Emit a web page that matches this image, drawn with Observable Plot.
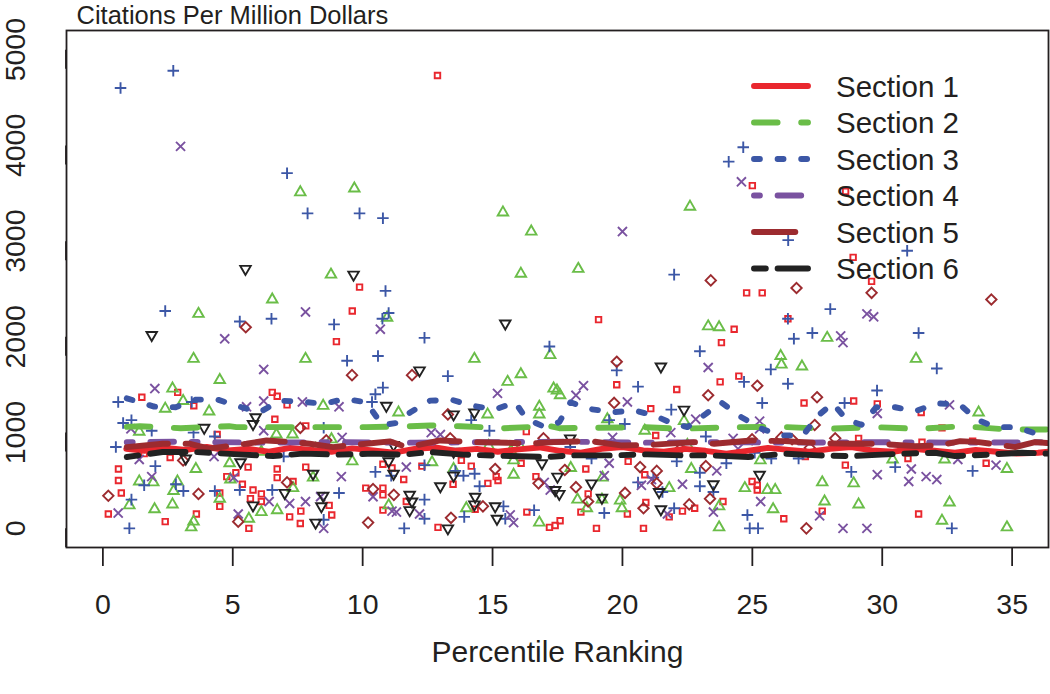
<!DOCTYPE html>
<html><head><meta charset="utf-8">
<script src="https://cdn.jsdelivr.net/npm/d3@7"></script>
<script src="https://cdn.jsdelivr.net/npm/@observablehq/plot@0.6"></script>
<style>
body{margin:0;background:#fff;}
#chart{position:relative;width:1050px;height:694px;}
</style></head><body><div id="chart"></div>
<script>
const titleText = "Citations Per Million Dollars";
const xLabel = "Percentile Ranking";
const xTicks = [0, 5, 10, 15, 20, 25, 30, 35];
const yTicks = [0, 1000, 2000, 3000, 4000, 5000];
const sectionNames = ["Section 1", "Section 2", "Section 3", "Section 4", "Section 5", "Section 6"];
const sectionColors = ["#e9272e", "#6abd48", "#3c57a6", "#7a52a0", "#9c2b2f", "#222222"];

const section1Points = [[12.88,4730],[25.0,3580],[28.59,3520],[28.88,2830],[24.78,2460],[25.38,2460],[29.59,2580],[9.88,2520],[9.6,2270],[8.99,1950],[2.88,1420],[1.5,1370],[3.5,1280],[4.4,980],[1.59,780],[2.59,740],[0.6,620],[0.6,500],[4.77,540],[0.71,370],[4.5,370],[4.5,230],[0.21,150],[3.6,150],[2.4,70],[6.52,1420],[6.71,1380],[7.09,1290],[6.62,1140],[7.81,1070],[5.12,580],[5.59,640],[6.71,620],[6.71,530],[7.81,640],[10.78,670],[5.37,460],[5.78,400],[6.1,360],[5.68,310],[6.1,280],[7.32,490],[8.71,240],[7.62,180],[7.19,120],[8.81,140],[5.62,0],[7.6,50],[10.12,420],[10.78,420],[10.78,350],[10.78,190],[16.3,1010],[16.1,680],[12.28,650],[11.58,510],[11.13,630],[14.18,650],[13.8,710],[13.48,460],[14.82,470],[15.14,540],[15.21,500],[16.67,540],[11.68,280],[12.9,10],[14.33,200],[16.32,170],[17.19,10],[17.41,30],[19.08,2180],[23.81,1940],[19.78,1500],[22.09,1450],[23.76,1530],[21.09,1250],[21.28,970],[20.22,700],[18.59,620],[20.86,560],[18.68,360],[18.4,170],[20.19,150],[20.9,270],[21.8,120],[22.31,180],[22.78,210],[17.6,80],[19.0,0],[20.81,0],[24.3,2080],[26.37,2190],[24.48,1590],[26.99,1310],[28.9,1330],[29.81,1300],[29.09,940],[27.04,750],[28.58,660],[24.99,490],[25.19,450],[25.19,400],[23.87,280],[27.69,180],[26.21,100],[31.5,1210],[32.3,1050],[33.48,910],[30.99,730],[34.0,680],[31.4,150],[31.53,900]];

const section2Points = [[7.6,3510],[9.68,3550],[8.78,2650],[15.4,3300],[16.49,3100],[22.6,3360],[16.09,2660],[18.3,2710],[3.68,2240],[3.49,1770],[4.5,1550],[2.68,1460],[3.09,1330],[2.4,1250],[4.09,1220],[1.4,1010],[4.88,680],[3.58,620],[1.94,480],[1.4,490],[2.87,490],[2.72,390],[1.02,240],[4.5,310],[2.68,250],[1.99,200],[3.49,70],[3.4,10],[6.52,2390],[10.94,2200],[7.8,1770],[8.48,1280],[6.68,980],[7.3,980],[8.8,930],[8.19,830],[9.25,830],[6.1,800],[9.6,700],[8.09,530],[4.91,510],[7.32,420],[6.1,170],[6.71,190],[5.62,100],[11.0,240],[17.22,1810],[14.3,1770],[16.09,1610],[15.58,1530],[17.35,1460],[16.8,1270],[16.8,1190],[11.38,1210],[14.81,1190],[16.07,850],[15.71,810],[14.85,860],[15.81,710],[12.67,690],[13.5,620],[15.81,560],[13.99,210],[16.8,60],[23.3,2110],[23.72,2100],[17.48,1440],[17.6,1390],[19.42,1140],[22.37,1120],[20.86,1020],[22.5,870],[18.01,630],[22.65,620],[19.23,530],[21.8,420],[18.27,300],[19.21,300],[18.63,210],[19.91,290],[19.98,210],[23.72,230],[23.72,10],[26.09,1800],[26.12,1710],[26.91,1690],[27.88,1990],[25.31,710],[24.71,420],[25.58,400],[25.88,400],[27.69,480],[28.9,470],[27.78,280],[29.09,250],[25.8,200],[31.3,1770],[33.71,1210],[30.4,720],[32.4,720],[34.8,620],[32.59,270],[32.3,80],[34.8,10]];

const section3Points = [[0.68,4600],[2.71,4780],[7.09,3710],[7.88,3290],[9.88,3290],[10.78,3240],[21.99,2650],[24.65,3980],[24.09,3830],[26.38,3010],[30.96,2900],[2.4,2270],[0.59,1320],[3.42,1320],[0.78,1100],[1.1,1130],[1.88,1020],[3.49,1000],[4.31,960],[0.5,850],[2.02,650],[1.59,450],[2.81,460],[3.1,390],[1.1,300],[4.31,390],[1.02,0],[10.88,2480],[6.49,2190],[5.27,2160],[8.9,2130],[11.0,2250],[10.76,2190],[9.4,1750],[10.59,1800],[10.78,1470],[10.49,1400],[10.36,1320],[8.5,1050],[6.96,750],[10.49,590],[5.27,400],[6.52,400],[9.09,370],[8.5,90],[11.1,550],[12.38,1990],[17.19,1900],[13.28,1590],[14.18,1130],[14.88,1020],[12.38,660],[13.57,600],[13.88,550],[14.31,570],[14.5,440],[12.38,300],[12.38,100],[11.6,0],[13.91,120],[15.42,230],[15.49,100],[16.6,190],[22.98,1850],[19.78,1650],[20.6,1480],[21.88,1240],[19.49,1130],[20.09,1090],[23.21,960],[17.99,850],[18.81,730],[22.09,700],[22.98,580],[20.6,480],[21.19,530],[21.54,380],[22.98,440],[23.5,380],[19.3,160],[21.99,210],[28.0,2290],[26.37,2190],[26.6,1980],[27.31,2040],[25.71,1660],[24.68,1530],[26.37,1510],[25.38,1310],[28.55,1310],[29.8,1440],[25.09,790],[25.73,730],[26.78,730],[24.0,680],[28.81,590],[24.81,140],[24.9,0],[25.22,0],[31.4,2040],[32.1,1670],[30.5,640],[33.48,600],[32.68,0]];

const section4Points = [[2.99,3990],[20.0,3100],[24.58,3620],[4.69,1980],[2.0,1460],[1.08,1040],[1.4,720],[4.28,750],[1.88,540],[0.59,160],[7.8,2260],[10.68,2080],[6.19,1660],[5.53,1270],[6.19,1330],[7.68,1320],[9.09,1270],[6.19,1020],[9.21,950],[9.18,540],[5.04,530],[6.4,280],[7.19,260],[7.8,280],[8.38,330],[5.21,150],[8.5,0],[10.4,330],[11.13,180],[15.19,1410],[12.64,1000],[12.99,980],[11.68,640],[16.99,480],[17.22,400],[11.3,170],[12.19,150],[15.68,140],[15.81,60],[23.3,1680],[18.5,1490],[18.21,1390],[20.19,1320],[22.82,1140],[21.86,1000],[19.62,950],[19.49,680],[23.63,600],[19.3,550],[20.73,450],[21.12,510],[22.31,460],[21.73,150],[23.5,170],[29.41,2240],[29.67,2210],[28.4,2010],[28.49,1940],[29.81,1200],[25.28,1120],[25.28,1040],[24.26,940],[24.45,830],[29.81,560],[25.32,280],[27.59,130],[28.49,0],[29.41,0],[32.59,1290],[32.91,720],[31.12,620],[31.02,490],[31.69,540],[32.1,510],[34.38,660]];

const section5Points = [[23.4,2590],[26.7,2510],[29.59,2460],[34.2,2390],[3.09,710],[0.21,340],[3.68,360],[5.5,2100],[9.59,1600],[7.6,1050],[8.6,920],[7.09,480],[5.21,70],[10.21,60],[10.4,410],[11.2,350],[11.9,1600],[13.28,1190],[13.37,940],[16.96,940],[15.1,620],[16.77,470],[13.4,110],[14.63,230],[19.78,1740],[23.3,1390],[19.68,1310],[22.22,830],[17.78,610],[20.68,640],[21.32,600],[23.21,650],[18.21,430],[21.32,470],[18.68,280],[20.1,370],[23.37,310],[20.81,210],[22.57,250],[25.19,1490],[27.49,1370],[27.4,1080],[24.99,930],[26.12,950],[26.53,930],[28.19,940],[27.21,840],[27.08,0]];

const section6Points = [[5.49,2710],[9.65,2650],[1.88,2020],[3.9,1050],[3.19,730],[10.91,1280],[5.88,1160],[5.78,1090],[5.3,690],[11.0,700],[8.09,570],[7.0,370],[8.48,340],[8.41,230],[5.78,240],[8.19,60],[15.49,2140],[12.19,1650],[13.5,1190],[14.3,1210],[11.19,870],[13.5,800],[16.9,680],[11.19,570],[13.5,550],[12.99,440],[17.41,400],[11.81,350],[11.9,280],[11.81,190],[13.28,0],[14.33,330],[14.3,250],[15.1,230],[15.17,100],[21.48,1690],[22.37,1240],[17.99,940],[17.5,540],[18.81,470],[17.57,360],[19.21,320],[21.41,380],[23.5,460],[21.48,200],[25.28,560]];

const section1Line = [[0.9,830],[1.6,810],[2.4,840],[3.2,820],[4.0,850],[4.8,815],[5.6,830],[6.4,800],[7.2,840],[8.0,820],[8.8,800],[9.6,835],[10.4,815],[11.2,790],[12.0,830],[12.8,845],[13.6,810],[14.4,830],[15.2,800],[16.0,825],[16.8,845],[17.6,810],[18.4,790],[19.2,830],[20.0,850],[20.8,815],[21.6,800],[22.4,830],[23.2,810],[24.0,780],[24.8,810],[25.6,840],[26.4,820],[27.2,800],[28.0,830],[28.8,850],[29.6,815],[30.4,800],[31.2,830],[32.0,810],[32.8,790],[33.6,820],[34.4,800],[35.2,780],[36.0,790],[36.4,800]];
const section2Line = [[0.92,1060],[1.43,1067],[3.0,1046],[4.86,1067],[5.14,1057],[7.07,1057],[8.48,1057],[10.14,1057],[11.84,1067],[12.6,1075],[13.76,1067],[15.42,1046],[17.22,1067],[17.57,1046],[19.04,1050],[20.83,1057],[22.24,1040],[24.33,1057],[26.1,1060],[27.9,1040],[29.71,1057],[31.4,1040],[33.13,1067],[34.8,1033],[36.4,1033]];
const section3Line = [[0.92,1358],[1.97,1272],[2.8,1265],[3.58,1345],[4.41,1345],[5.34,1265],[6.04,1213],[6.81,1334],[7.64,1324],[8.48,1300],[9.3,1352],[10.14,1317],[10.75,1080],[11.3,1100],[11.84,1213],[12.6,1334],[13.44,1342],[14.2,1282],[15.1,1241],[15.87,1317],[16.3,1144],[17.0,1060],[17.57,1109],[18.0,1317],[18.72,1248],[19.6,1213],[20.49,1230],[21.22,1178],[21.9,1100],[22.5,1057],[23.21,1196],[23.79,1317],[24.58,1161],[25.35,1040],[26.1,970],[26.95,970],[27.53,1178],[28.1,1306],[28.62,1137],[29.2,1082],[29.77,1265],[30.5,1265],[31.27,1223],[32.1,1306],[33.0,1290],[33.64,1137],[34.35,1057],[35.18,1057],[35.9,990],[36.4,970]];
const section4Line = [[0.92,900],[3,905],[6,895],[9,900],[12,895],[15,900],[18,905],[21,895],[24,900],[27,895],[30,900],[33,895],[36.4,900]];
const section5Line = [[0.92,849],[2.3,884],[3.32,884],[4.09,832],[5.53,884],[6.3,918],[7.32,901],[7.96,884],[8.86,849],[10.14,884],[11.04,908],[11.71,849],[12.99,918],[14.27,901],[15.55,894],[16.45,884],[17.35,901],[18.78,911],[19.94,866],[21.22,874],[22.76,901],[23.53,884],[24.96,918],[26.25,911],[27.53,890],[28.81,884],[29.83,884],[31.27,859],[32.17,866],[33.0,911],[33.71,901],[35.12,849],[35.88,901],[36.4,890]];
const section6Line = [[0.92,745],[2.3,797],[3.58,797],[5.4,770],[6.55,755],[7.7,780],[9.08,770],[10.4,780],[11.58,770],[12.6,797],[13.88,770],[15.68,755],[17.09,745],[18.0,762],[19.56,762],[20.96,773],[22.25,762],[23.4,762],[24.84,745],[26.25,780],[27.53,762],[28.81,755],[29.97,770],[30.76,780],[32.04,790],[32.8,755],[34.09,770],[35.38,790],[36.4,780]];

const allPoints = [section1Points, section2Points, section3Points, section4Points, section5Points, section6Points];
const allLines = [section1Line, section2Line, section3Line, section4Line, section5Line, section6Line];

const U = 5.9;
const dashes = [null, `${4*U} ${4*U}`, `${U} ${3*U}`, `${U} ${3*U} ${4*U} ${3*U}`, `${7*U} ${3*U}`, `${2*U} ${2*U} ${6*U} ${2*U}`];
const symbolSpecs = [
  {symbol: "square2", r: 3.5, rotate: 0},
  {symbol: "triangle2", r: 5.0, rotate: 0},
  {symbol: "plus", r: 3.8, rotate: 0},
  {symbol: "times", r: 4.2, rotate: 0},
  {symbol: "diamond2", r: 4.7, rotate: 0},
  {symbol: "triangle2", r: 5.0, rotate: 180}
];

const dotMarks = allPoints.map((pts, i) => Plot.dot(pts, {
  x: d => d[0], y: d => d[1],
  symbol: symbolSpecs[i].symbol, r: symbolSpecs[i].r, rotate: symbolSpecs[i].rotate,
  stroke: sectionColors[i], fill: "none", strokeWidth: 1.9, clip: true
}));
const lineMarks = allLines.map((pts, i) => Plot.line(pts, {
  x: d => d[0], y: d => d[1],
  stroke: sectionColors[i], strokeWidth: U,
  strokeDasharray: dashes[i] || undefined,
  strokeLinecap: "round", strokeLinejoin: "round", clip: true
}));

const ink = "#231f20";
const chart = Plot.plot({
  width: 1050, height: 694,
  marginLeft: 66, marginRight: 2, marginTop: 30, marginBottom: 147,
  x: {domain: [-1.4, 36.4]},
  y: {domain: [-200, 5200]},
  style: {fontFamily: "'Liberation Sans', Arial, sans-serif", fontSize: "28.5px", color: ink, background: "#fff"},
  marks: [
    ...dotMarks,
    ...lineMarks,
    Plot.frame({stroke: ink, strokeWidth: 1.8}),
    Plot.axisX({ticks: xTicks, tickSize: 19, tickPadding: 27, label: null, fontSize: 28.5, strokeWidth: 1.8, tickFormat: d => String(d)}),
    Plot.axisY({ticks: yTicks, tickSize: 19, tickPadding: 23, label: null, rotate: -90, textAnchor: "middle", lineAnchor: "bottom", fontSize: 28.5, strokeWidth: 1.8, tickFormat: d => String(d)}),
    Plot.text([xLabel], {text: d => d, frameAnchor: "bottom", dy: 114, lineAnchor: "bottom", fontSize: 30, fill: ink}),
    Plot.text([titleText], {text: d => d, frameAnchor: "top-left", dx: 10, dy: -7, lineAnchor: "bottom", textAnchor: "start", fontSize: 25.5, fill: ink})
  ]
});
document.getElementById("chart").appendChild(chart);

// legend inside the plot area (top right)
const svg = d3.select(chart);
const lg = svg.append("g").attr("font-family", "'Liberation Sans', Arial, sans-serif").attr("font-size", 29.5).attr("text-anchor", "start");
sectionNames.forEach((name, i) => {
  const cy = 86 + i * 36.5;
  const ln = lg.append("line").attr("x1", 754).attr("x2", 808).attr("y1", cy).attr("y2", cy)
    .attr("stroke", sectionColors[i]).attr("stroke-width", U).attr("stroke-linecap", "round");
  if (dashes[i]) ln.attr("stroke-dasharray", dashes[i]);
  lg.append("text").attr("x", 836).attr("y", cy + 10.5).attr("fill", ink).attr("text-anchor", "start").text(name);
});
</script></body></html>
